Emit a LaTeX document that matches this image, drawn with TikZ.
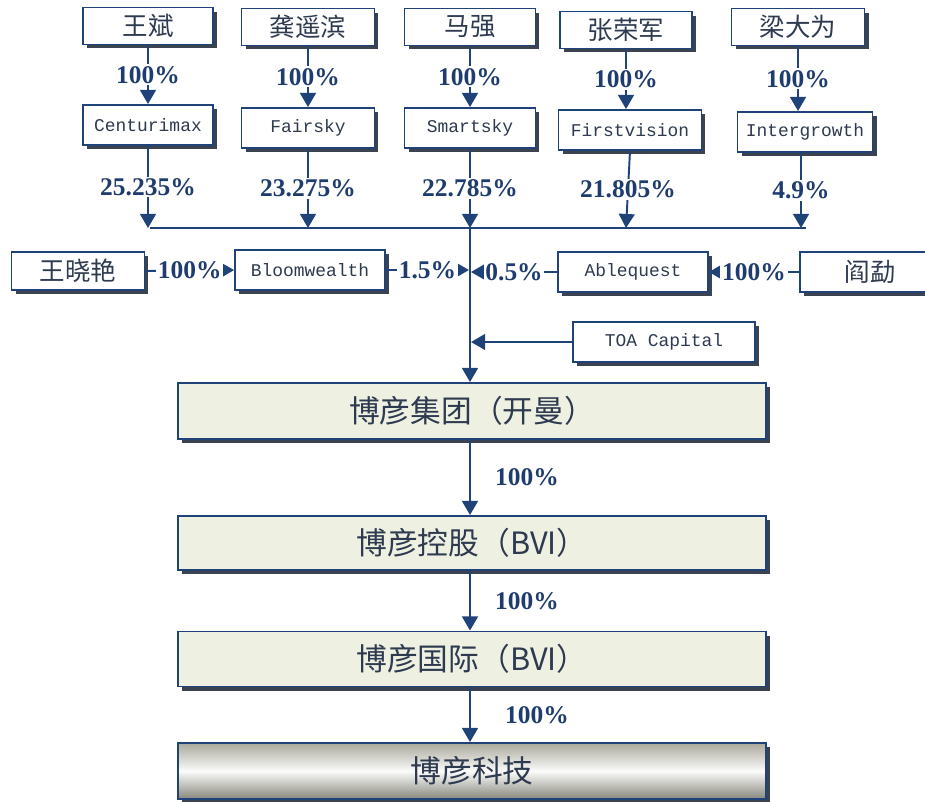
\documentclass[tikz,border=0pt]{standalone}
\usepackage{fontspec}
\setmainfont{Liberation Serif}
\setmonofont{Liberation Mono}
\newfontfamily\cjk{Noto Sans CJK SC}
\usetikzlibrary{positioning}
\usetikzlibrary{arrows.meta}
\usetikzlibrary{shadows}
\definecolor{navy}{HTML}{1F4279}
\definecolor{inkc}{HTML}{2E3A50}
\definecolor{pctc}{HTML}{1F3C6E}
\definecolor{shadowc}{HTML}{3B4250}
\definecolor{boxc}{HTML}{EEF1E1}
\definecolor{techc}{HTML}{A9A99C}
\tikzset{
  holder/.style={draw=navy, line width=1.1pt, fill=white, text=inkc,
    font=\cjk\fontsize{14.5}{16}\selectfont,
    minimum width=2.6cm, minimum height=0.74cm, inner sep=0pt,
    drop shadow={shadow xshift=0.08cm, shadow yshift=-0.08cm, fill=shadowc, opacity=1}},
  firm/.style={holder, font=\ttfamily\fontsize{10.2}{12}\selectfont, minimum height=0.8cm},
  group/.style={holder, fill=boxc, font=\cjk\fontsize{17.5}{20}\selectfont,
    minimum width=11.76cm, minimum height=1.12cm},
  pct/.style={fill=white, inner sep=1pt, text=pctc, font=\bfseries\fontsize{14.5}{16}\selectfont},
  link/.style={draw=navy, line width=1.1pt, -{Triangle[width=9pt,length=8pt]}},
}

\begin{document}
\begin{tikzpicture}[x=0.02cm, y=-0.02cm]
\useasboundingbox (0,0) rectangle (925,801);

% Owners
\node[holder] (wangbin) at (148,26) {王斌};
\node[holder, minimum width=2.66cm] (gong) at (308,27) {龚遥滨};
\node[holder, minimum width=2.62cm] (ma) at (470,27) {马强};
\node[holder, minimum width=2.64cm] (zhang) at (626,30) {张荣军};
\node[holder, minimum width=2.66cm] (liang) at (798,27) {梁大为};

% Holding companies
\node[firm] (centurimax) at (148,125) {Centurimax};
\node[firm, minimum width=2.66cm] (fairsky) at (308,128) {Fairsky};
\node[firm, minimum width=2.62cm] (smartsky) at (470,128) {Smartsky};
\node[firm, minimum width=2.86cm] (firstvision) at (630,130) {Firstvision};
\node[firm, minimum width=2.7cm] (intergrowth) at (805,132) {Intergrowth};

\draw[link] (wangbin.south) -- node[pct]{100\%} (centurimax.north);
\draw[link] (gong.south) -- node[pct]{100\%} (fairsky.north);
\draw[link] (ma.south) -- node[pct]{100\%} (smartsky.north);
\draw[link] (zhang.south) -- node[pct]{100\%} (zhang.south |- firstvision.north);
\draw[link] (liang.south) -- node[pct]{100\%} (liang.south |- intergrowth.north);

% Collecting line
\coordinate (busw) at (150,228);
\coordinate (buse) at (806,228);
\draw[navy, line width=1.1pt] (busw) -- (buse);

\draw[link] (centurimax.south) -- node[pct]{25.235\%} (centurimax.south |- busw);
\draw[link] (fairsky.south) -- node[pct]{23.275\%} (fairsky.south |- busw);
\draw[link] (smartsky.south) -- node[pct]{22.785\%} (smartsky.south |- busw);
\draw[link] (firstvision.south) -- node[pct]{21.805\%} (626,228);
\draw[link] (intergrowth.south) ++(-4,0) -- node[pct]{4.9\%} (801,228);

% Side holders
\node[holder, minimum width=2.66cm, minimum height=0.76cm] (wangxy) at (78,271) {王晓艳};
\node[firm, minimum width=3cm] (bloomwealth) at (310,270) {Bloomwealth};
\node[firm, minimum width=3cm] (ablequest) at (633,272) {Ablequest};
\node[holder, minimum width=2.8cm, minimum height=0.8cm] (yan) at (870,272) {阎勐};
\node[firm, minimum width=3.64cm] (toa) at (664,342) {TOA Capital};

% Group companies
\node[group] (cayman) at (472,411) {博彦集团（开曼）};
\node[group, minimum height=1.08cm] (holding) at (472,543) {博彦控股（BVI）};
\node[group, minimum height=1.1cm] (intl) at (472,659) {博彦国际（BVI）};
\node[group, shading=axis, top color=techc, bottom color=techc!80!black, middle color=white!95!techc] (tech) at (472,771) {博彦科技};

% Trunk
\draw[link] (smartsky.south |- busw) -- (smartsky.south |- cayman.north);

\draw[link] (wangxy.east) -- node[pct]{100\%} (bloomwealth.west);
\draw[link] (bloomwealth.east) -- node[pct]{1.5\%} ([xshift=-0.6pt]smartsky.south |- bloomwealth.east);
\draw[link] (ablequest.west) -- node[pct]{0.5\%} ([xshift=0.6pt]smartsky.south |- ablequest.west);
\draw[link] (yan.west) -- node[pct]{100\%} (ablequest.east);
\draw[link] (toa.west) -- ([xshift=0.6pt]smartsky.south |- toa.west);

\draw[link] (smartsky.south |- cayman.south) -- node[pct, midway, right=0.45cm]{100\%} (smartsky.south |- holding.north);
\draw[link] (smartsky.south |- holding.south) -- node[pct, midway, right=0.45cm]{100\%} (smartsky.south |- intl.north);
\draw[link] (smartsky.south |- intl.south) -- node[pct, midway, right=0.65cm]{100\%} (smartsky.south |- tech.north);

\end{tikzpicture}
\end{document}
